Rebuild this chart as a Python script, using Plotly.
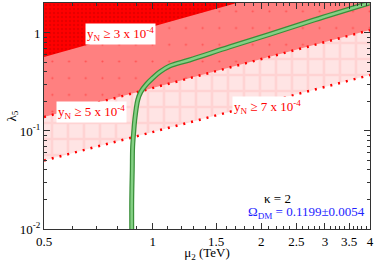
import plotly.graph_objects as go

# ---- data ----
mu_edge = [0.5, 4.0]            # TeV
lam_yN7 = [0.050, 0.372]        # lower edge of y_N >= 7e-4 region
lam_yN5 = [0.139, 1.07]         # lower edge of y_N >= 5e-4 region
mu_yN3 = [0.5, 1.71]
lam_yN3 = [0.569, 2.02]         # lower edge of y_N >= 3e-4 region
lam_top = 2.2

mu_dm = [0.875, 0.875, 0.878, 0.880, 0.887, 0.892, 0.909, 0.927, 0.963, 1.000,
         1.046, 1.115, 1.265, 1.632, 2.105, 2.803, 3.98]
lam_dm = [0.010, 0.0198, 0.040, 0.0687, 0.1024, 0.1295, 0.207, 0.250, 0.302, 0.347,
          0.400, 0.461, 0.530, 0.720, 0.966, 1.358, 2.02]

x_ticks = [0.5, 1, 1.5, 2, 2.5, 3, 3.5, 4]
x_ticktext = ["0.5", "1", "1.5", "2", "2.5", "3", "3.5", "4"]
x_minor = [0.6, 0.7, 0.8, 0.9, 1.1, 1.2, 1.3, 1.4, 1.6, 1.7, 1.8, 1.9, 2.1, 2.2, 2.3, 2.4,
           2.6, 2.7, 2.8, 2.9, 3.1, 3.2, 3.3, 3.4, 3.6, 3.7, 3.8, 3.9]
y_ticks = [0.01, 0.1, 1]
y_ticktext = ["10<sup>-2</sup>", "10<sup>-1</sup>", "1"]
y_minor = [0.02, 0.03, 0.04, 0.05, 0.06, 0.07, 0.08, 0.09,
           0.2, 0.3, 0.4, 0.5, 0.6, 0.7, 0.8, 0.9, 2]

FONT = "Liberation Serif"

fig = go.Figure()

fig.add_trace(go.Scatter(
    x=[mu_edge[0], mu_edge[1], mu_edge[1], mu_edge[0], mu_edge[0]],
    y=[lam_yN7[0], lam_yN7[1], lam_top, lam_top, lam_yN7[0]],
    mode="lines", line=dict(width=0), fill="toself", fillcolor="#ffd8d8",
    fillpattern=dict(shape="+", fgcolor="#ffc2c2", bgcolor="#ffe4e4", size=16, solidity=0.3),
    hoverinfo="skip"))
fig.add_trace(go.Scatter(
    x=[mu_edge[0], mu_edge[1], mu_edge[1], mu_edge[0], mu_edge[0]],
    y=[lam_yN5[0], lam_yN5[1], lam_top, lam_top, lam_yN5[0]],
    mode="lines", line=dict(width=0), fill="toself", fillcolor="#ff8080",
    fillpattern=dict(shape=".", fgcolor="#ff2020", bgcolor="#ff8080", size=16.7, solidity=0.012),
    hoverinfo="skip"))
fig.add_trace(go.Scatter(
    x=[mu_yN3[0], mu_yN3[1], mu_yN3[1], mu_yN3[0], mu_yN3[0]],
    y=[lam_yN3[0], lam_yN3[1], lam_top, lam_top, lam_yN3[0]],
    mode="lines", line=dict(width=0), fill="toself", fillcolor="#f00000",
    fillpattern=dict(shape=".", fgcolor="#cc0000", bgcolor="#ff0000", size=4, solidity=0.3),
    hoverinfo="skip"))

for lam in (lam_yN5, lam_yN7):
    fig.add_trace(go.Scatter(x=mu_edge, y=lam, mode="lines",
                             line=dict(color="#ff0000", width=2.5, dash="2px,6px"),
                             hoverinfo="skip"))

fig.add_trace(go.Scatter(x=mu_dm, y=lam_dm, mode="lines",
                         line=dict(color="#3a8f3a", width=5, shape="spline"),
                         hoverinfo="skip"))
fig.add_trace(go.Scatter(x=mu_dm, y=lam_dm, mode="lines",
                         line=dict(color="#84d084", width=2.5, shape="spline"),
                         hoverinfo="skip"))

W, H = 374, 262
L, R, T, B = 44, 4, 3, 33
pw, ph = W - L - R, H - T - B

def px(xp):
    return (xp - L) / pw

def py(yp):
    return (H - B - yp) / ph

def ann(x, y, text, font, xanchor="center", bg=None):
    kw = dict(bgcolor=bg, borderpad=1) if bg else {}
    fig.add_annotation(x=px(x), y=py(y), xref="paper", yref="paper", showarrow=False,
                       xanchor=xanchor, yanchor="middle", text=text, font=font, **kw)

red = dict(family=FONT, size=13, color="#ff0000")
ann(120, 34, "y<sub>N</sub> ≥ 3 x 10<sup>-4</sup>", red, bg="white")
ann(91, 112, "y<sub>N</sub> ≥ 5 x 10<sup>-4</sup>", red, bg="white")
ann(232, 107, "y<sub>N</sub> ≥ 7 x 10<sup>-4</sup>", red, xanchor="left", bg="white")
ann(277, 198, "κ = 2", dict(family=FONT, size=13, color="black"))
ann(367, 212, "Ω<sub>DM</sub> = 0.1199±0.0054", dict(family=FONT, size=13, color="#2222ff"),
    xanchor="right")

axis_common = dict(type="log", showgrid=False, zeroline=False, showline=True,
                   linecolor="#333333", linewidth=1, mirror="allticks",
                   ticks="inside", ticklen=6, tickcolor="#333333", automargin=False,
                   tickfont=dict(family=FONT, size=13, color="black"))

fig.update_layout(
    width=W, height=H,
    margin=dict(l=L, r=R, t=T, b=B, autoexpand=False),
    paper_bgcolor="white", plot_bgcolor="white",
    showlegend=False,
    font=dict(family=FONT, size=13, color="black"),
    xaxis=dict(**axis_common, range=[-0.30103, 0.60206],
               tickmode="array", tickvals=x_ticks, ticktext=x_ticktext,
               minor=dict(tickvals=x_minor, ticks="inside", ticklen=3, tickcolor="#333333"),
               title=dict(text="μ<sub>2</sub> (TeV)", standoff=0,
                          font=dict(family=FONT, size=13))),
    yaxis=dict(**axis_common, range=[-2, 0.306],
               tickmode="array", tickvals=y_ticks, ticktext=y_ticktext,
               minor=dict(tickvals=y_minor, ticks="inside", ticklen=3, tickcolor="#333333"),
               title=dict(text="λ<sub>5</sub>", standoff=0,
                          font=dict(family=FONT, size=13))),
)

fig.write_html("out.html", config={"displayModeBar": False},
               post_script="document.body.style.margin='0px';document.body.style.padding='0px';")
